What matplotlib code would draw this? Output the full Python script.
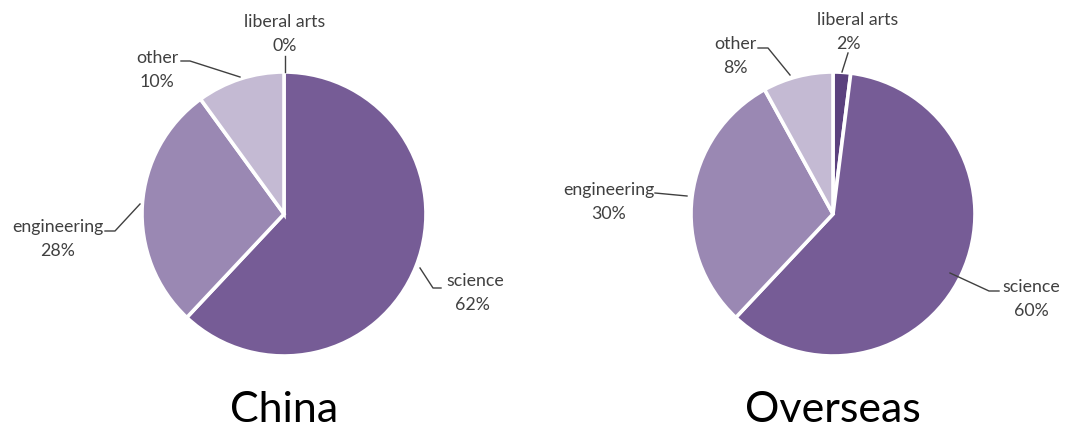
import matplotlib
matplotlib.use("Agg")
import matplotlib.pyplot as plt

plt.rcParams["font.family"] = ["Lato", "DejaVu Sans"]

# --- data ---
categories = ["liberal arts", "science", "engineering", "other"]
china_share = [0, 62, 28, 10]
overseas_share = [2, 60, 30, 8]
regions = ["China", "Overseas"]
colors = ["#5b417e", "#765c96", "#9a88b3", "#c4bad3"]

W, H = 1081, 434
TXT = "#404040"

# layout in pixel coordinates (y down)
centers = [(284, 214), (833, 214)]
radius = 142
# label centre (x, y of first line) per category, per pie
label_pos = [
    [(285, 22), (475, 281), (58, 227), (157, 58)],
    [(858, 20), (1031, 287), (609, 190), (735, 44)],
]
second_dx = [[0, -3, 0, 0], [-10, 0, 0, 0]]
# leader polylines
leaders = [
    [[(285, 56), (285, 72)],
     [(420, 268), (433, 288), (441, 288)],
     [(105, 231), (115, 231), (140, 204)],
     [(181, 61), (190, 61), (240, 77)]],
    [[(848, 53), (842, 72)],
     [(950, 273), (989, 291), (999, 291)],
     [(655, 193), (687, 196)],
     [(758, 48), (768, 48), (790, 75)]],
]

fig = plt.figure(figsize=(W / 100, H / 100), dpi=100)
ax = fig.add_axes([0, 0, 1, 1])

for k, shares in enumerate([china_share, overseas_share]):
    # y axis is inverted below, so startangle 270 + counterclock = clockwise from top
    ax.pie(shares, colors=colors, startangle=270, counterclock=True,
           center=centers[k], radius=radius,
           wedgeprops=dict(edgecolor="white", linewidth=2.6))
    for i, name in enumerate(categories):
        x, y = label_pos[k][i]
        ax.text(x, y, name, ha="center", va="center", fontsize=12.8, color=TXT)
        ax.text(x + second_dx[k][i], y + 24, f"{shares[i]}%", ha="center",
                va="center", fontsize=12.8, color=TXT)
        xs, ys = zip(*leaders[k][i])
        ax.plot(xs, ys, color=TXT, lw=1.0)
    ax.text(centers[k][0], 410, regions[k], ha="center", va="center",
            fontsize=31, color="black")

ax.set_xlim(0, W)
ax.set_ylim(H, 0)
ax.set_aspect("equal")
ax.axis("off")
fig.savefig("out.png", dpi=100)
